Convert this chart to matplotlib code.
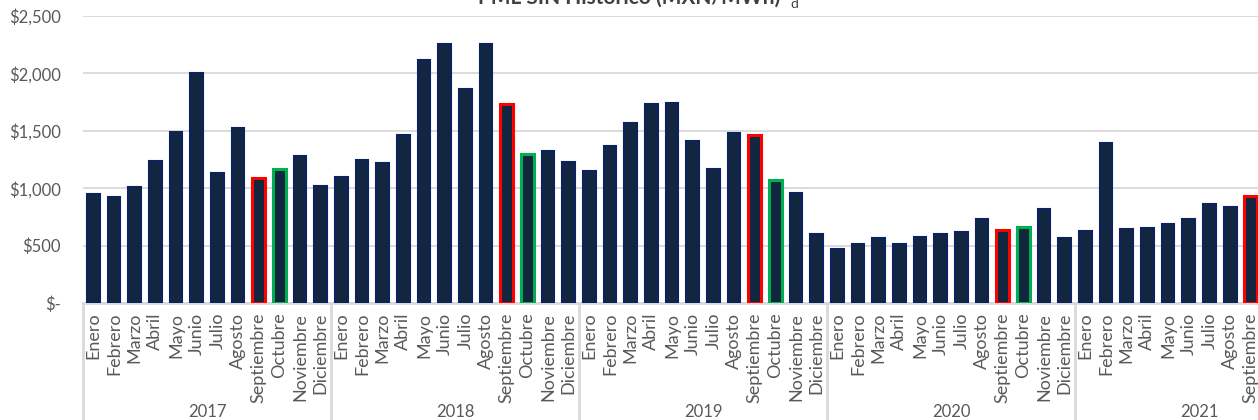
import numpy as np
import matplotlib
matplotlib.use("Agg")
import matplotlib.pyplot as plt

plt.rcParams['font.family'] = ['Lato', 'DejaVu Sans']

months = ['Enero', 'Febrero', 'Marzo', 'Abril', 'Mayo', 'Junio', 'Julio',
          'Agosto', 'Septiembre', 'Octubre', 'Noviembre', 'Diciembre']
years = ['2017', '2018', '2019', '2020', '2021']

# PML monthly averages (MXN/MWh)
pml_2017 = [950, 920, 1010, 1240, 1490, 2000, 1135, 1525, 1090, 1165, 1280, 1020]
pml_2018 = [1100, 1250, 1220, 1460, 2120, 2260, 1860, 2260, 1730, 1295, 1320, 1230]
pml_2019 = [1150, 1370, 1565, 1730, 1740, 1415, 1165, 1480, 1460, 1070, 960, 605]
pml_2020 = [470, 510, 565, 510, 575, 600, 615, 735, 640, 660, 815, 570]
pml_2021 = [625, 1395, 645, 655, 690, 730, 865, 840, 935]

series = [pml_2017, pml_2018, pml_2019, pml_2020, pml_2021]

values = []
labels = []
edges = []
for yr in series:
    for i, v in enumerate(yr):
        values.append(v)
        labels.append(months[i])
        if months[i] == 'Septiembre':
            edges.append('#FF0000')
        elif months[i] == 'Octubre':
            edges.append('#00B050')
        else:
            edges.append('#0B2160')

x = np.arange(len(values))
lws = [2.2 if e != '#0B2160' else 1.5 for e in edges]

fig = plt.figure(figsize=(12.58, 4.2), dpi=100)
ax = fig.add_axes([83 / 1258, 117 / 420, 1 - 83 / 1258, 287 / 420])

ax.bar(x, values, width=0.62, color='#132640', edgecolor=edges,
       linewidth=lws, zorder=3)

ax.set_xlim(-0.5, 56.35)
ax.set_ylim(0, 2500)
ax.set_yticks(np.arange(0, 2501, 500))
ax.set_yticklabels(['$-'] + ['${:,}'.format(v) for v in range(500, 2501, 500)])
ax.yaxis.grid(True, color='#D9D9D9', linewidth=1.3, zorder=0)
ax.set_axisbelow(True)

ax.set_xticks(x)
ax.set_xticklabels(labels, rotation=90, va='top', ha='center')
ax.tick_params(axis='x', length=0, pad=7, labelsize=13, labelcolor='#595959')
ax.tick_params(axis='y', length=0, pad=16, labelsize=12, labelcolor='#595959')

for s in ['top', 'right', 'left']:
    ax.spines[s].set_visible(False)
ax.spines['bottom'].set_color('#D9D9D9')
ax.spines['bottom'].set_linewidth(2)
ax.spines['bottom'].set_zorder(2)

# year grouping below the month labels
trans = ax.get_xaxis_transform()
for k, yr in enumerate(years):
    start = k * 12 - 0.5
    ax.plot([start, start], [0, -0.45], transform=trans, color='#D9D9D9',
            linewidth=2, clip_on=False)
    ax.text(start + 6, -0.38, yr, transform=trans, ha='center', va='center',
            fontsize=12, color='#595959')

fig.text(629 / 1258, 1 - 4 / 420, 'PML SIN Histórico (MXN/MWh)', ha='center',
         va='baseline', fontsize=15, fontweight='bold', color='#404040')
fig.text(790 / 1258, 1 - 8 / 420, 'd', ha='left', va='baseline',
         fontsize=10, color='#404040')

fig.savefig('out.png', dpi=100)
